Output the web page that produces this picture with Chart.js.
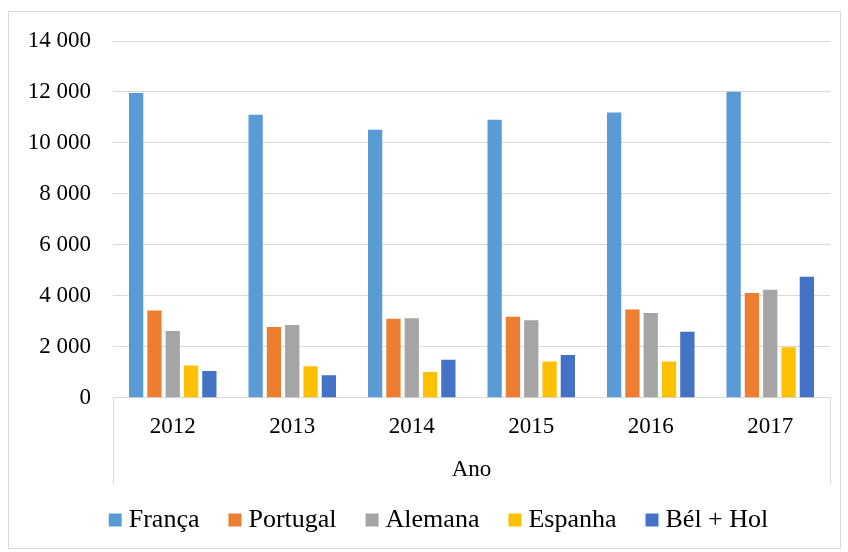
<!DOCTYPE html>
<html>
<head>
<meta charset="utf-8">
<script src="https://cdn.jsdelivr.net/npm/chart.js@4"></script>
<style>
	body { margin: 0; background: #fff; }
	#wrap { position: absolute; left: 8px; top: 11px; width: 833px; height: 538px; border: 1px solid #d9d9d9; box-sizing: border-box; }
	#grafico { display: block; }
</style>
</head>
<body>
<div id="wrap"><canvas id="grafico" width="831" height="536"></canvas></div>
<script>
var anos = ['2012', '2013', '2014', '2015', '2016', '2017'];
var franca = [11960, 11110, 10520, 10910, 11190, 12010];
var portugal = [3430, 2780, 3100, 3180, 3460, 4110];
var alemana = [2620, 2860, 3120, 3040, 3330, 4240];
var espanha = [1270, 1240, 1010, 1420, 1420, 1980];
var belHol = [1050, 880, 1490, 1680, 2590, 4750];

var fonte = 'Liberation Serif, Times New Roman, serif';

// linhas da caixa do eixo das categorias (estilo Excel) + legenda um pouco para a direita
var caixaEixo = {
	id: 'caixaEixo',
	afterLayout: function(chart) {
		chart.legend.left = 44;
	},
	afterDraw: function(chart) {
		var ctx = chart.ctx;
		var area = chart.chartArea;
		var fundo = chart.scales.x.bottom + 12;
		ctx.save();
		ctx.strokeStyle = '#d9d9d9';
		ctx.lineWidth = 1;
		ctx.beginPath();
		ctx.moveTo(Math.round(area.left) + 0.5, area.bottom);
		ctx.lineTo(Math.round(area.left) + 0.5, fundo);
		ctx.moveTo(Math.round(area.right) + 0.5, area.bottom);
		ctx.lineTo(Math.round(area.right) + 0.5, fundo);
		ctx.stroke();
		ctx.restore();
	}
};

function serie(nome, cor, dados) {
	return {
		label: nome,
		data: dados,
		backgroundColor: cor,
		borderWidth: 0,
		pointStyle: 'rect',
		categoryPercentage: 0.766,
		barPercentage: 0.78
	};
}

var chartdata = {
	labels: anos,
	datasets: [
		serie('França', '#5B9BD5', franca),
		serie('Portugal', '#ED7D31', portugal),
		serie('Alemana', '#A5A5A5', alemana),
		serie('Espanha', '#FFC000', espanha),
		serie('Bél + Hol', '#4472C4', belHol)
	]
};

var ctx = document.getElementById('grafico');

var grafico = new Chart(ctx, {
	type: 'bar',
	data: chartdata,
	plugins: [caixaEixo],
	options: {
		responsive: false,
		animation: false,
		layout: { padding: { left: 0, right: 10, top: 29, bottom: 5 } },
		plugins: {
			tooltip: { enabled: false },
			legend: {
				position: 'bottom',
				labels: {
					usePointStyle: true,
					pointStyle: 'rect',
					boxWidth: 1,
					boxHeight: 13,
					padding: 35,
					color: '#000',
					font: { family: fonte, size: 26 }
				}
			}
		},
		scales: {
			x: {
				grid: { display: false, drawTicks: false },
				border: { display: true, color: '#d9d9d9', width: 1 },
				ticks: { color: '#000', padding: 15, font: { family: fonte, size: 23 } },
				title: {
					display: true,
					text: 'Ano',
					color: '#000',
					font: { family: fonte, size: 23 },
					padding: { top: 1, bottom: -12 }
				}
			},
			y: {
				min: 0,
				max: 14000,
				afterFit: function(scale) { scale.width = 104; },
				grid: { color: '#d9d9d9', lineWidth: 1, drawTicks: false },
				border: { display: false },
				ticks: {
					stepSize: 2000,
					padding: 22,
					color: '#000',
					font: { family: fonte, size: 23, lineHeight: 0.4 },
					callback: function(v) {
						return String(v).replace(/\B(?=(\d{3})+(?!\d))/g, ' ');
					}
				}
			}
		}
	}
});
</script>
</body>
</html>
